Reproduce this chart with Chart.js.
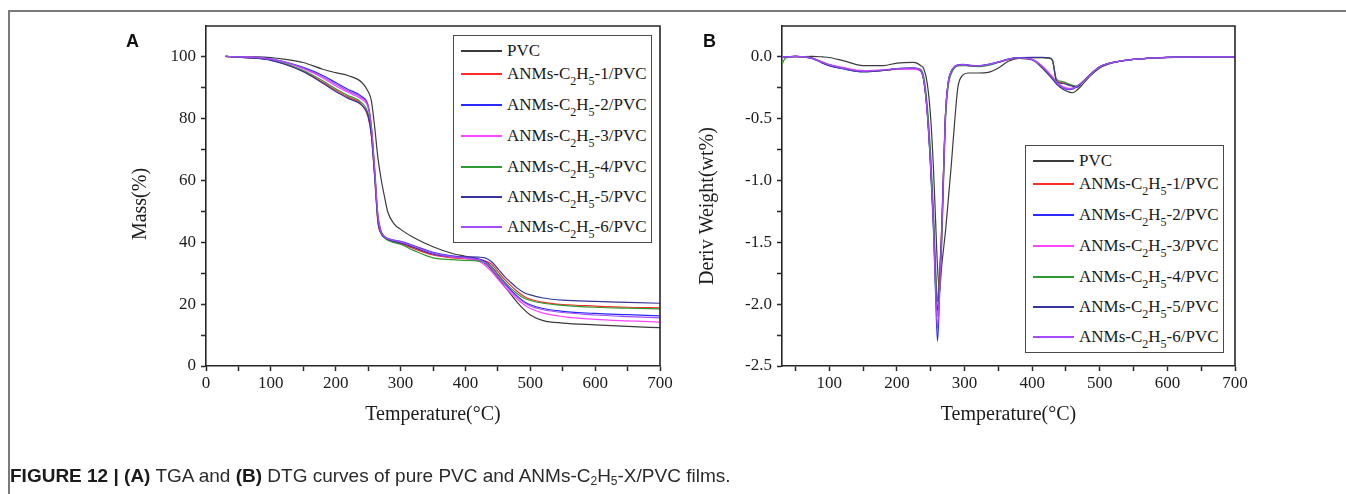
<!DOCTYPE html>
<html>
<head>
<meta charset="utf-8">
<script src="https://cdn.jsdelivr.net/npm/chart.js@4.4.1/dist/chart.umd.min.js"></script>
<style>
  html, body { margin: 0; padding: 0; background: #fff; }
  body { width: 1346px; height: 494px; position: relative; overflow: hidden; }
  .frame { position: absolute; left: 8px; top: 10px; width: 1400px; height: 600px;
           border-left: 2px solid #7a7a7a; border-top: 2px solid #7a7a7a; }
  canvas { position: absolute; top: 0; }
  .panel-tag { position: absolute; top: 33px; font: bold 18px 'Liberation Sans', Arial, sans-serif; color: #111; line-height: 17px; }
  .legend { position: absolute; box-sizing: border-box; width: 199px; height: 208px;
            border: 1px solid #4a4a4a; background: #fff;
            font-family: 'Liberation Serif', 'Times New Roman', serif; font-size: 17px; color: #1a1a1a; }
  .legend .row { position: absolute; left: 0; width: 100%; height: 22px; }
  .legend .swatch { position: absolute; left: 7px; width: 41px; top: 10px; height: 2px; }
  .legend .txt { position: absolute; left: 53px; top: 0; line-height: 22px; white-space: nowrap; }
  .legend sub { font-size: 12px; line-height: 0; vertical-align: -5.5px; }
  .caption { position: absolute; left: 10px; top: 466px; font: 19px 'Liberation Sans', Arial, sans-serif;
             color: #2b2b2b; white-space: nowrap; line-height: 19px; }
  .caption b { color: #1a1a1a; }
  .caption sub { font-size: 12px; line-height: 0; vertical-align: -3px; }
</style>
</head>
<body>
<div class="frame"></div>
<canvas id="tgaChart" width="673" height="494" style="left:0"></canvas>
<canvas id="dtgChart" width="673" height="494" style="left:673px"></canvas>
<div class="panel-tag" style="left:126px">A</div>
<div class="panel-tag" style="left:703px">B</div>
<div class="legend" id="tgaLegend"></div>
<div class="legend" id="dtgLegend"></div>
<div class="caption"><b>FIGURE 12 | (A)</b> TGA and <b>(B)</b> DTG curves of pure PVC and ANMs-C<sub>2</sub>H<sub>5</sub>-X/PVC films.</div>

<script>
const seriesNames = ['PVC', 'ANMs-C2H5-1/PVC', 'ANMs-C2H5-2/PVC', 'ANMs-C2H5-3/PVC',
    'ANMs-C2H5-4/PVC', 'ANMs-C2H5-5/PVC', 'ANMs-C2H5-6/PVC'];
const seriesColors = ['#3b3b3b', '#ff2a2a', '#2a2aff', '#ff44ff', '#2f9a2f', '#35359a', '#a64cff'];

// TGA: mass (%) vs temperature (°C)
const tgaTemp = [30, 50, 80, 100, 120, 150, 180, 200, 220, 240, 250, 255, 260, 265, 270, 275, 280, 290, 300,
    320, 350, 380, 400, 420, 430, 440, 450, 460, 470, 480, 490, 500, 520, 550, 600, 650, 700];
const tgaPVC = [100.2, 100, 100, 99.8, 99.3, 98.2, 96, 94.9, 93.9, 91.8, 88.8, 85.8, 77.5, 67.5, 60.5, 55, 50, 46, 44.2,
    41.6, 38.6, 36.4, 35.5, 34.6, 33.2, 31.2, 28.6, 25.8, 23.2, 20.6, 18.3, 16.5, 14.7, 13.9, 13.3, 12.8, 12.4];
const tga1 = [100.2, 99.9, 99.6, 99.0, 97.8, 95.4, 91.8, 89.2, 86.9, 84.6, 80.5, 74.5, 61.5, 46.5, 42.8, 41.6, 41.0, 40.2, 39.6,
    38.0, 35.9, 35.0, 34.7, 34.3, 34.0, 33.0, 30.6, 28.1, 26.0, 24.1, 22.6, 21.6, 20.6, 19.9, 19.4, 19.0, 18.8];
const tga2 = [100.2, 100, 99.8, 99.4, 98.5, 96.6, 94, 91.7, 89.4, 87.2, 84.3, 77.5, 64, 49, 43.6, 42.0, 41.3, 40.7, 40.3,
    39.0, 36.8, 35.6, 35.1, 34.6, 33.9, 32.2, 29.6, 27.0, 24.6, 22.6, 20.9, 19.8, 18.6, 17.7, 17.0, 16.6, 16.2];
const tga3 = [100.2, 100, 99.8, 99.3, 98.3, 96.2, 93.2, 90.6, 88.4, 86.3, 83.5, 77, 63, 48, 43.3, 41.8, 41.1, 40.5, 40.0,
    38.6, 36.2, 35.2, 34.8, 34.0, 32.6, 30.6, 28.1, 25.7, 23.6, 21.6, 19.9, 18.6, 17.1, 16.0, 15.1, 14.6, 14.2];
const tga4 = [100.2, 99.9, 99.6, 99.0, 97.9, 95.6, 92.3, 89.7, 87.4, 85.2, 81.6, 75.5, 62.5, 47.5, 43, 41.5, 40.7, 39.9, 39.4,
    37.4, 35.0, 34.4, 34.2, 33.9, 33.5, 32.2, 29.8, 27.3, 25.2, 23.4, 22.0, 21.2, 20.3, 19.6, 19.0, 18.7, 18.5];
const tga5 = [100.2, 99.9, 99.5, 98.9, 97.7, 95.2, 91.5, 88.8, 86.5, 84.4, 80.8, 74.5, 61.5, 47, 43, 41.7, 41.0, 40.3, 39.8,
    38.4, 36.2, 35.4, 35.3, 35.2, 35.0, 33.8, 31.5, 29.0, 27.0, 25.2, 23.8, 23.0, 22.0, 21.3, 20.9, 20.6, 20.3];
const tga6 = [100.2, 100, 99.8, 99.3, 98.4, 96.4, 93.6, 91.2, 88.9, 86.8, 83.9, 77.2, 63.5, 48.5, 43.4, 41.9, 41.2, 40.6, 40.2,
    38.8, 36.5, 35.4, 35.0, 34.4, 33.4, 31.6, 29.0, 26.5, 24.2, 22.2, 20.6, 19.4, 18.2, 17.3, 16.5, 16.0, 15.6];

// DTG: derivative weight (wt%/°C) vs temperature (°C)
const dtgTemp = [30, 35, 50, 75, 90, 100, 120, 150, 180, 200, 225, 235, 240, 245, 250, 254, 257, 260, 263, 266,
    269, 272, 276, 280, 285, 290, 297, 305, 320, 335, 350, 365, 380, 400, 415, 425, 430, 436, 445, 455,
    460, 466, 475, 485, 500, 515, 530, 550, 600, 650, 700];
const dtgPVC = [0, 0, 0, 0.005, 0, -0.005, -0.03, -0.07, -0.07, -0.05, -0.045, -0.07, -0.1, -0.22, -0.5, -0.9, -1.3, -1.7, -1.9, -1.7,
    -1.55, -1.4, -1.15, -0.9, -0.55, -0.25, -0.15, -0.13, -0.13, -0.125, -0.09, -0.035, -0.012, -0.025, -0.09, -0.15, -0.18, -0.22, -0.26, -0.285,
    -0.29, -0.27, -0.22, -0.16, -0.09, -0.055, -0.035, -0.02, -0.005, 0, 0];
const dtg1 = [0, 0, 0.005, -0.01, -0.045, -0.065, -0.09, -0.115, -0.11, -0.1, -0.095, -0.11, -0.2, -0.45, -0.88, -1.32, -1.75, -1.98, -1.75, -1.4,
    -0.9, -0.45, -0.21, -0.13, -0.085, -0.07, -0.065, -0.07, -0.075, -0.065, -0.045, -0.02, -0.008, -0.005, -0.005, -0.01, -0.03, -0.19, -0.21, -0.225,
    -0.235, -0.24, -0.2, -0.15, -0.08, -0.05, -0.035, -0.02, -0.004, 0, 0];
const dtg2 = [0, 0, 0.005, -0.015, -0.05, -0.07, -0.095, -0.12, -0.11, -0.095, -0.09, -0.11, -0.2, -0.47, -0.92, -1.4, -1.9, -2.3, -1.95, -1.5,
    -0.95, -0.45, -0.2, -0.12, -0.08, -0.065, -0.06, -0.065, -0.07, -0.06, -0.04, -0.018, -0.006, -0.02, -0.08, -0.14, -0.17, -0.21, -0.25, -0.265,
    -0.26, -0.24, -0.2, -0.15, -0.08, -0.05, -0.033, -0.02, -0.004, 0, 0];
const dtg3 = [0, 0, 0.005, -0.01, -0.04, -0.06, -0.085, -0.11, -0.105, -0.1, -0.1, -0.115, -0.2, -0.44, -0.85, -1.3, -1.75, -2.1, -1.85, -1.45,
    -0.92, -0.45, -0.21, -0.12, -0.08, -0.068, -0.065, -0.07, -0.075, -0.065, -0.045, -0.02, -0.008, -0.02, -0.075, -0.13, -0.16, -0.2, -0.24, -0.255,
    -0.25, -0.235, -0.2, -0.15, -0.08, -0.05, -0.035, -0.02, -0.004, 0, 0];
const dtg4 = [-0.06, -0.01, 0.005, -0.01, -0.045, -0.065, -0.09, -0.12, -0.11, -0.095, -0.09, -0.1, -0.17, -0.4, -0.8, -1.25, -1.68, -1.95, -1.9, -1.55,
    -1.0, -0.5, -0.23, -0.14, -0.09, -0.072, -0.07, -0.072, -0.078, -0.068, -0.045, -0.02, -0.008, -0.005, -0.005, -0.01, -0.03, -0.18, -0.2, -0.22,
    -0.23, -0.235, -0.2, -0.15, -0.08, -0.05, -0.035, -0.02, -0.004, 0, 0];
const dtg5 = [0, 0, 0.005, -0.012, -0.05, -0.07, -0.095, -0.12, -0.11, -0.095, -0.09, -0.11, -0.2, -0.46, -0.9, -1.35, -1.8, -2.05, -1.8, -1.42,
    -0.9, -0.44, -0.2, -0.12, -0.08, -0.066, -0.062, -0.068, -0.073, -0.062, -0.042, -0.018, -0.006, -0.004, -0.004, -0.008, -0.025, -0.2, -0.215, -0.23,
    -0.238, -0.245, -0.2, -0.145, -0.08, -0.05, -0.034, -0.02, -0.003, 0, 0];
const dtg6 = [0, 0, 0.005, -0.012, -0.045, -0.065, -0.09, -0.115, -0.105, -0.095, -0.09, -0.11, -0.2, -0.46, -0.9, -1.36, -1.85, -2.2, -1.9, -1.48,
    -0.93, -0.45, -0.2, -0.12, -0.08, -0.066, -0.062, -0.067, -0.072, -0.062, -0.042, -0.018, -0.007, -0.02, -0.078, -0.135, -0.165, -0.205, -0.245, -0.26,
    -0.255, -0.238, -0.2, -0.15, -0.08, -0.05, -0.034, -0.02, -0.004, 0, 0];

// axis ticks (all get a tick mark, only the listed ones get a label)
const tgaXTicks = [0, 50, 100, 150, 200, 250, 300, 350, 400, 450, 500, 550, 600, 650, 700];
const tgaXLabels = [0, 100, 200, 300, 400, 500, 600, 700];
const tgaYTicks = [0, 10, 20, 30, 40, 50, 60, 70, 80, 90, 100];
const tgaYLabels = [0, 20, 40, 60, 80, 100];
const dtgXTicks = [50, 100, 150, 200, 250, 300, 350, 400, 450, 500, 550, 600, 650, 700];
const dtgXLabels = [100, 200, 300, 400, 500, 600, 700];
const dtgYTicks = [-2.5, -2.25, -2, -1.75, -1.5, -1.25, -1, -0.75, -0.5, -0.25, 0];
const dtgYLabels = [-2.5, -2, -1.5, -1, -0.5, 0];

// legend row centres inside the legend box (px)
const legendRowCenters = [15, 38, 69, 100, 131, 161, 191];

const serif = "'Liberation Serif', 'Times New Roman', serif";
const inkColor = '#262626';

const plotFrame = {
    id: 'plotFrame',
    afterDraw: function (chart) {
        const ctx = chart.ctx;
        const a = chart.chartArea;
        ctx.save();
        ctx.strokeStyle = inkColor;
        ctx.lineWidth = 1.6;
        ctx.beginPath();
        ctx.moveTo(a.left, a.top);
        ctx.lineTo(a.right, a.top);
        ctx.lineTo(a.right, a.bottom);
        ctx.stroke();
        ctx.restore();
    },
};

// rotated y title, placed the way Origin puts it (a bit below the axis middle)
const sideTitle = {
    id: 'sideTitle',
    afterDraw: function (chart, args, opts) {
        const ctx = chart.ctx;
        ctx.save();
        ctx.translate(opts.x, opts.y);
        ctx.rotate(-Math.PI / 2);
        ctx.font = '20px ' + serif;
        ctx.fillStyle = '#1c1c1c';
        ctx.textAlign = 'center';
        ctx.textBaseline = 'middle';
        ctx.fillText(opts.text, 0, 0);
        ctx.restore();
    },
};

function buildDatasets(temps, seriesList) {
    return seriesList.map(function (values, i) {
        return {
            label: seriesNames[i],
            data: temps.map((t, k) => ({ x: t, y: values[k] })),
            borderColor: seriesColors[i],
            backgroundColor: seriesColors[i],
            borderWidth: 1.2,
            pointRadius: 0,
            cubicInterpolationMode: 'monotone',
            order: seriesList.length - 1 - i,
        };
    });
}

function axisOptions(min, max, ticks, labelled, digits, horizontal, size, title) {
    return {
        type: 'linear',
        min: min,
        max: max,
        afterBuildTicks: function (scale) {
            scale.ticks = ticks.map((v) => ({ value: v }));
        },
        afterFit: function (scale) {
            if (horizontal) {
                scale.height = size;
            } else {
                scale.width = size;
            }
            scale.paddingLeft = 0;
            scale.paddingRight = 0;
            scale.paddingTop = 0;
            scale.paddingBottom = 0;
        },
        grid: {
            drawOnChartArea: false,
            drawTicks: true,
            tickLength: 5,
            tickWidth: 1.5,
            tickColor: inkColor,
        },
        border: { display: true, color: inkColor, width: 1.6 },
        ticks: {
            autoSkip: false,
            maxRotation: 0,
            padding: horizontal ? 2 : 5,
            color: '#1c1c1c',
            font: { family: serif, size: 17 },
            callback: function (value) {
                return labelled.includes(value) ? value.toFixed(digits) : '';
            },
        },
        title: {
            display: !!title,
            text: title || '',
            color: '#1c1c1c',
            font: { family: serif, size: 20 },
            padding: { top: 4, bottom: 4 },
        },
    };
}

function createPanel(canvasId, cfg) {
    const ctx = document.getElementById(canvasId).getContext('2d');
    return new Chart(ctx, {
        type: 'line',
        data: { datasets: buildDatasets(cfg.temps, cfg.series) },
        options: {
            responsive: false,
            animation: false,
            layout: { padding: cfg.padding },
            plugins: {
                legend: { display: false },
                tooltip: { enabled: false },
                sideTitle: cfg.yTitle,
            },
            scales: {
                x: cfg.x,
                y: cfg.y,
            },
        },
        plugins: [plotFrame, sideTitle],
    });
}

function formatLabel(text) {
    return text.replace('C2H5', 'C<sub>2</sub>H<sub>5</sub>');
}

function buildLegend(chart, boxId, dx, dy) {
    const area = chart.chartArea;
    const box = document.getElementById(boxId);
    box.style.left = Math.round(chart.canvas.offsetLeft + area.left + dx) + 'px';
    box.style.top = Math.round(area.top + dy) + 'px';
    chart.data.datasets.forEach(function (ds, i) {
        const row = document.createElement('div');
        row.className = 'row';
        row.style.top = (legendRowCenters[i] - 11) + 'px';
        const swatch = document.createElement('span');
        swatch.className = 'swatch';
        swatch.style.backgroundColor = ds.borderColor;
        const txt = document.createElement('span');
        txt.className = 'txt';
        txt.innerHTML = formatLabel(ds.label);
        row.appendChild(swatch);
        row.appendChild(txt);
        box.appendChild(row);
    });
}

const tgaChart = createPanel('tgaChart', {
    temps: tgaTemp,
    series: [tgaPVC, tga1, tga2, tga3, tga4, tga5, tga6],
    padding: { left: 146, right: 13, top: 26, bottom: 63 },
    x: axisOptions(0, 700, tgaXTicks, tgaXLabels, 0, true, 65, 'Temperature(°C)'),
    y: axisOptions(0, 110, tgaYTicks, tgaYLabels, 0, false, 60, null),
    yTitle: { text: 'Mass(%)', x: 141, y: 204 },
});

const dtgChart = createPanel('dtgChart', {
    temps: dtgTemp,
    series: [dtgPVC, dtg1, dtg2, dtg3, dtg4, dtg5, dtg6],
    padding: { left: 49, right: 111, top: 26, bottom: 63 },
    x: axisOptions(30, 700, dtgXTicks, dtgXLabels, 0, true, 65, 'Temperature(°C)'),
    y: axisOptions(-2.5, 0.25, dtgYTicks, dtgYLabels, 1, false, 60, null),
    yTitle: { text: 'Deriv Weight(wt%)', x: 35, y: 206 },
});

buildLegend(tgaChart, 'tgaLegend', 247, 9);
buildLegend(dtgChart, 'dtgLegend', 243, 119);
</script>
</body>
</html>
